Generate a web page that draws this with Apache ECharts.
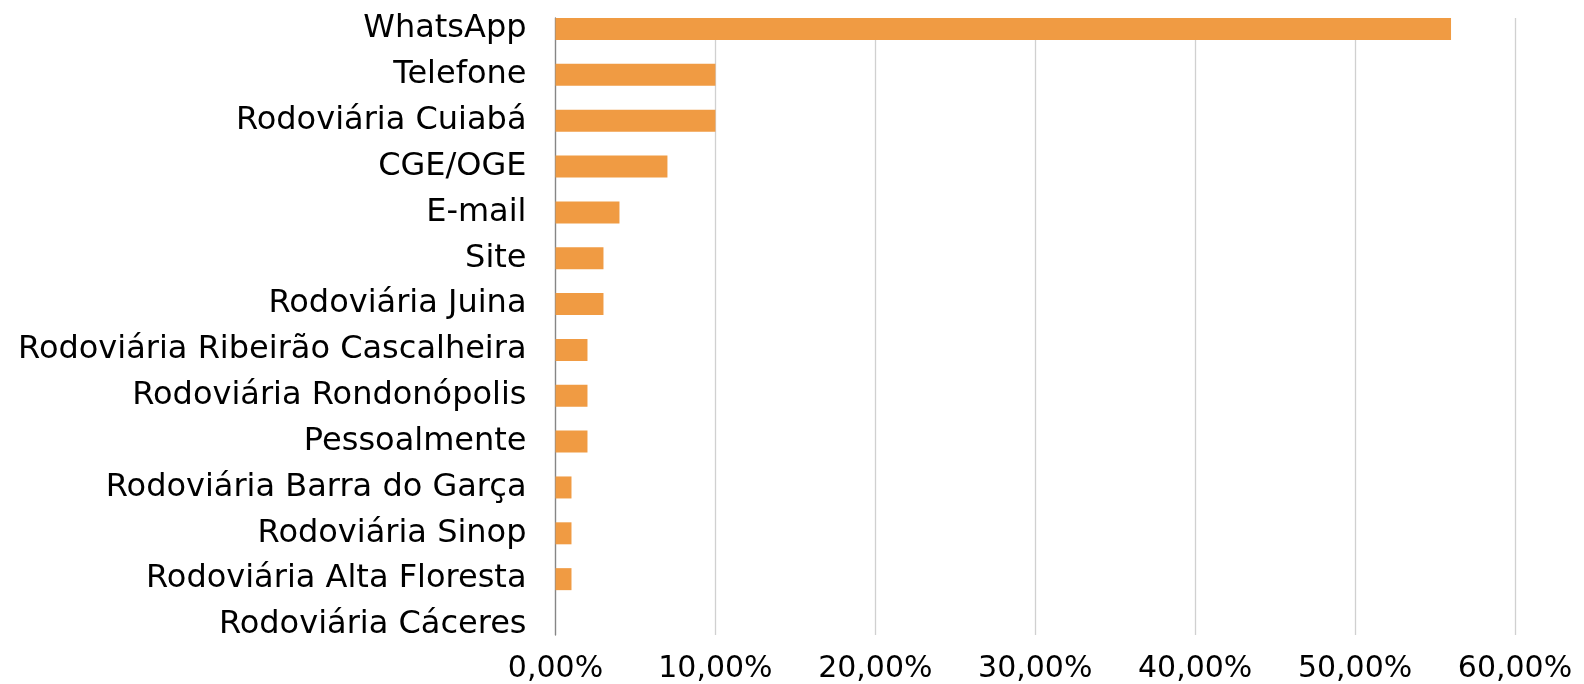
<!DOCTYPE html>
<html>
<head>
<meta charset="utf-8">
<script src="https://cdn.jsdelivr.net/npm/echarts@6/dist/echarts.min.js"></script>
<style>
  html, body { margin: 0; padding: 0; background: #fff; }
  #chart { width: 1584px; height: 684px; }
</style>
</head>
<body>
<div id="chart"></div>
<script>
// canais de atendimento, de cima para baixo
const categories = [
  "WhatsApp",
  "Telefone",
  "Rodoviária Cuiabá",
  "CGE/OGE",
  "E-mail",
  "Site",
  "Rodoviária Juina",
  "Rodoviária Ribeirão Cascalheira",
  "Rodoviária Rondonópolis",
  "Pessoalmente",
  "Rodoviária Barra do Garça",
  "Rodoviária Sinop",
  "Rodoviária Alta Floresta",
  "Rodoviária Cáceres",
];
const values = [56, 10, 10, 7, 4, 3, 3, 2, 2, 2, 1, 1, 1, 0];
const xMin = 0, xMax = 60, xStep = 10;

const font = "'DejaVu Sans', sans-serif";
const fmtPct = (v) => v.toFixed(2).replace(".", ",") + "%";

const myChart = echarts.init(document.getElementById("chart"));

const option = {
  animation: false,
  grid: [
    // área de plotagem (grade e eixo)
    { left: 555.5, right: 69, top: 18, bottom: 48 },
    // barras
    { left: 555.5, right: 69, top: 29, bottom: 59 },
  ],
  xAxis: [
    {
      gridIndex: 0,
      type: "value",
      min: xMin,
      max: xMax,
      interval: xStep,
      axisLine: { show: false },
      axisTick: { show: false },
      splitLine: { show: true, lineStyle: { color: "#d0d0d0", width: 1.3 } },
      axisLabel: {
        formatter: fmtPct,
        color: "#000",
        fontFamily: font,
        fontSize: 30,
        margin: 19,
      },
    },
    {
      gridIndex: 1,
      type: "value",
      min: xMin,
      max: xMax,
      show: false,
    },
  ],
  yAxis: [
    {
      gridIndex: 0,
      type: "value",
      axisLine: { show: true, lineStyle: { color: "#868686", width: 1.3 } },
      axisTick: { show: false },
      axisLabel: { show: false },
      splitLine: { show: false },
    },
    {
      gridIndex: 1,
      type: "category",
      data: categories,
      inverse: true,
      boundaryGap: false,
      axisLine: { show: false },
      axisTick: { show: false },
      axisLabel: {
        color: "#000",
        fontFamily: font,
        fontSize: 32,
        margin: 29,
        padding: [6, 0, 0, 0],
      },
    },
  ],
  series: [
    {
      type: "bar",
      xAxisIndex: 1,
      yAxisIndex: 1,
      data: values,
      barWidth: 22,
      itemStyle: { color: "#F09B43" },
    },
  ],
};

myChart.setOption(option);
</script>
</body>
</html>
